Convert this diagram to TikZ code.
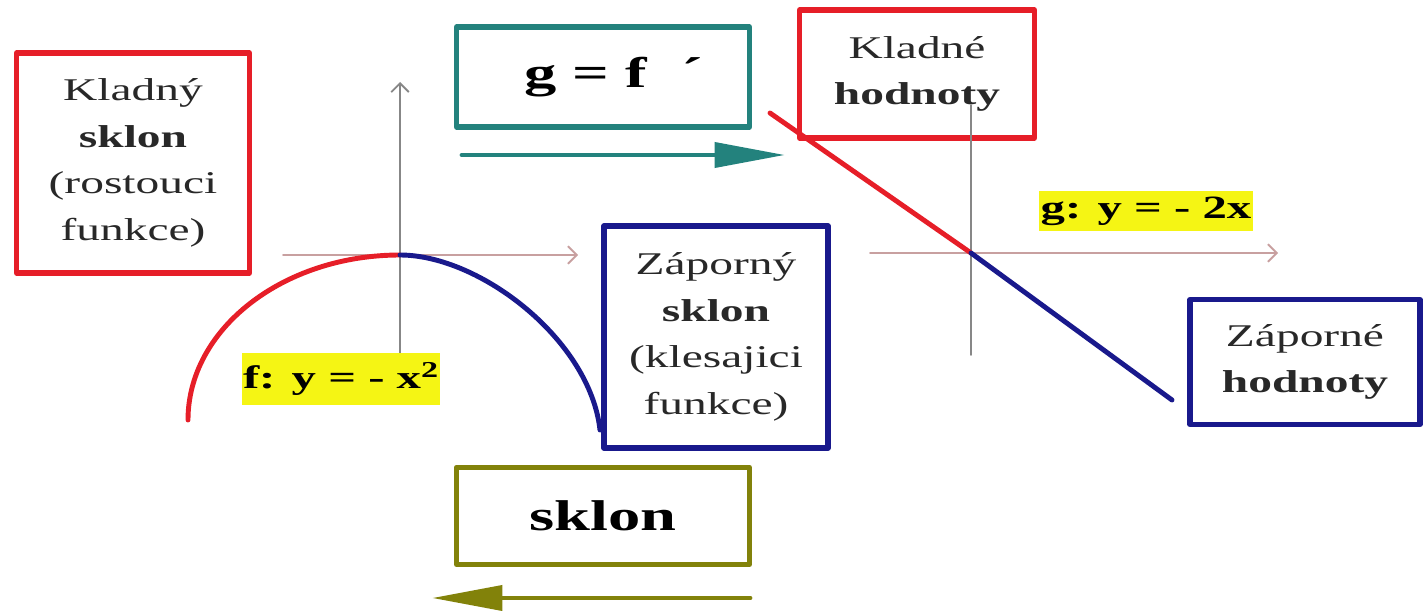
\documentclass[tikz,border=0pt]{standalone}
\usepackage{fontspec}
\setmainfont{Liberation Serif}[FakeStretch=1.5]
\usetikzlibrary{arrows.meta}

\definecolor{cervena}{RGB}{230,30,40}
\definecolor{modra}{RGB}{25,25,140}
\definecolor{tyrkys}{RGB}{35,130,125}
\definecolor{oliva}{RGB}{130,130,10}
\definecolor{osaruz}{RGB}{200,160,160}
\definecolor{osaseda}{RGB}{135,135,135}
\definecolor{textseda}{RGB}{40,40,40}
\definecolor{zluta}{RGB}{245,245,20}

\begin{document}
\begin{tikzpicture}[x=0.02cm, y=-0.02cm, line cap=round, line join=round,
		ramec/.style={draw, line width=3pt, fill=white, align=center, inner sep=0pt,
			text=textseda, font=\fontsize{18}{26.5}\selectfont},
		velky/.style={ramec, text=black, font=\fontsize{24.5}{28}\selectfont\bfseries},
		stitek/.style={fill=zluta, inner sep=0pt, text=black,
			font=\fontsize{18.5}{22}\selectfont\bfseries},
		osa/.style={line width=1.1pt, -{Straight Barb[length=5pt,width=10pt]}},
		graf/.style={line width=2.8pt},
		sipka/.style={line width=2.8pt, -{Triangle[length=40pt,width=14pt]}}]

	\useasboundingbox (0,0) rectangle (1426,611);

	% A. Ramecky s popisy
	\node[ramec, draw=cervena, minimum width=4.66cm, minimum height=4.4cm] (kladnysklon) at (133,163)
		{Kladný\\\textbf{sklon}\\(rostouci\\funkce)};
	\node[velky, draw=tyrkys, minimum width=5.86cm, minimum height=2cm] (derivace) at (603,77)
		{\hspace{0.5em}g = f\hspace{0.8em}´};
	\node[ramec, draw=modra, minimum width=4.48cm, minimum height=4.44cm] (zapornysklon) at (716,337)
		{Záporný\\\textbf{sklon}\\(klesajici\\funkce)};
	\node[ramec, draw=cervena, minimum width=4.7cm, minimum height=2.56cm] (kladne) at (917,74)
		{Kladné\\\textbf{hodnoty}};
	\node[ramec, draw=modra, minimum width=4.6cm, minimum height=2.5cm] (zaporne) at (1305,362)
		{Záporné\\\textbf{hodnoty}};
	\node[velky, draw=oliva, minimum width=5.86cm, minimum height=1.94cm] (sklon) at (603,516)
		{sklon};

	% B. Sipky smeru
	\coordinate (tyrkysA) at (462,155);
	\coordinate (tyrkysB) at (785,155);
	\coordinate (olivaA) at (750,598);
	\coordinate (olivaB) at (432,598);
	\draw[sipka, tyrkys] (tyrkysA) -- (tyrkysB);
	\draw[sipka, oliva] (olivaA) -- (olivaB);

	% C. Graf f: y = -x^2
	\begin{scope}
		\coordinate (o1) at (400,255);
		\coordinate (fL) at (188,420);
		\coordinate (fP) at (600,430);
		\draw[osa, osaruz] (283,255) -- (578,255);
		\draw[osa, osaseda] (400,355) -- (400,82);
		\draw[graf, cervena] (fL) .. controls (188,329) and (283,255) .. (o1);
		\draw[graf, modra] (o1) .. controls (480,255) and (590,340) .. (fP);
		\node[stitek, minimum width=3.96cm, minimum height=1.04cm] (popisf) at (341,379)
			{f: y = - x\textsuperscript{2}};
	\end{scope}

	% D. Graf g: y = -2x
	\begin{scope}
		\coordinate (o2) at (971,253);
		\coordinate (gL) at (770,113);
		\coordinate (gP) at (1172,400);
		\draw[osa, osaruz] (870,253) -- (1278,253);
		\draw[line width=1.1pt, osaseda] (971,355) -- (971,105);
		\draw[graf, cervena] (gL) -- (o2);
		\draw[graf, modra] (o2) -- (gP);
		\node[stitek, minimum width=4.3cm, minimum height=0.8cm] (popisg) at (1146,211)
			{g: y = - 2x};
	\end{scope}
\end{tikzpicture}
\end{document}
